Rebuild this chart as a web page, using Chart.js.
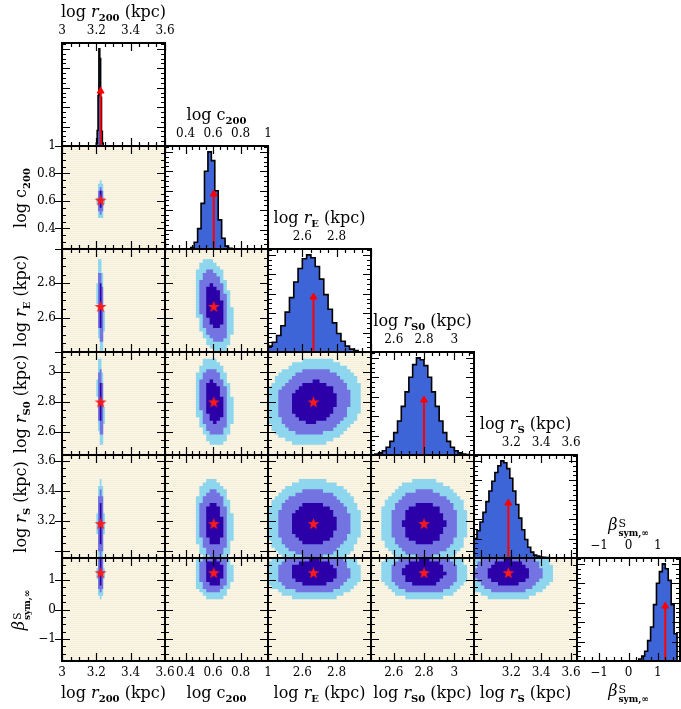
<!DOCTYPE html>
<html>
<head>
<meta charset="utf-8">
<script src="https://cdn.jsdelivr.net/npm/chart.js@4.4.1/dist/chart.umd.min.js"></script>
<style>
  html, body { margin: 0; padding: 0; background: #fff; }
  #fig { position: relative; width: 681px; height: 709px; overflow: hidden; }
  #fig canvas { position: absolute; left: 0; top: 0; }
  .ttl { position: absolute; font-family: "DejaVu Serif", serif; font-size: 16px; color: #000;
         white-space: nowrap; line-height: 1; transform: translate(-50%, -50%); }
  .ttl.rot { transform: translate(-50%, -50%) rotate(-90deg); }
  .ttl sub { font-size: 10px; font-weight: bold; vertical-align: -4px; line-height: 0; }
  .ttl .ss { display: inline-block; vertical-align: -6px; line-height: 1; margin-left: 1px; text-align: left; }
  .ttl .ss span { display: block; }
  .ttl .ss .up { font-size: 11px; }
  .ttl .ss .dn { font-size: 9px; font-weight: bold; }
</style>
</head>
<body>
<div id="fig"></div>
<script>
// parameters, in the order of the corner plot
const varNames = ['r200', 'c200', 'rE', 'rS0', 'rS', 'beta'];
const titleHtml = [
  'log <i>r</i><sub>200</sub> (kpc)',
  'log c<sub>200</sub>',
  'log <i>r</i><sub>E</sub> (kpc)',
  'log <i>r</i><sub>S0</sub> (kpc)',
  'log <i>r</i><sub>S</sub> (kpc)',
  '<i>β</i><span class="ss"><span class="up">S</span><span class="dn">sym,∞</span></span>'
];
const axisMin = [3.0, 0.25, 2.4, 2.45, 2.95, -1.75];
const axisMax = [3.6, 1.0, 3.0, 3.13, 3.64, 1.75];
const tickLabels = [[3, 3.2, 3.4, 3.6], [0.4, 0.6, 0.8, 1], [2.6, 2.8], [2.6, 2.8, 3], [3.2, 3.4, 3.6], [-1, 0, 1]];
const majorStep = [0.2, 0.2, 0.2, 0.2, 0.2, 1];
const minorStep = [0.05, 0.05, 0.05, 0.05, 0.05, 0.25];

// best fit (red star / arrow)
const bestFit = [3.225, 0.605, 2.665, 2.80, 3.18, 1.25];

// 2D contours: widths and correlations
const sigma = [0.0065, 0.044, 0.089, 0.092, 0.095, 0.30];
const rho = [
  [],
  [0.0],
  [-0.3, -0.3],
  [-0.3, -0.2, 0.1],
  [0.0, -0.1, 0.0, 0.0],
  [0.0, 0.0, 0.0, 0.0, 0.0]
];
const contourLevels = [3.15, 2.4, 1.5];           // outer -> inner
const contourColors = ['#8dd6ee', '#7373e2', '#2b00a9'];
const nBins = [60, 30, 30, 30, 30, 30];

// 1D histograms (peak normalised to 1)
const histStart = [3.2, 0.4375, 2.4, 2.475, 2.95, 0.35];
const histWidth = [0.005, 0.025, 0.025, 0.025, 0.02, 0.1];
const histR200 = [0.003, 0.03, 0.16, 0.52, 1.0, 0.9, 0.5, 0.15, 0.03, 0.003];
const histC200 = [0.004, 0.016, 0.07, 0.21, 0.47, 0.80, 1.0, 0.91, 0.6, 0.3, 0.11, 0.03, 0.006];
const histRE = [0.03, 0.06, 0.10, 0.17, 0.27, 0.41, 0.56, 0.72, 0.86, 0.96, 1.0, 0.97,
                0.88, 0.75, 0.59, 0.44, 0.30, 0.19, 0.11, 0.06, 0.03, 0.015];
const histRS0 = [0.005, 0.01, 0.022, 0.044, 0.08, 0.14, 0.23, 0.35, 0.5, 0.65, 0.8, 0.93, 1.0,
                 0.98, 0.92, 0.8, 0.65, 0.5, 0.35, 0.23, 0.14, 0.08, 0.044, 0.022, 0.01, 0.005];
const histRS = [0.14, 0.2, 0.28, 0.37, 0.47, 0.58, 0.69, 0.79, 0.88, 0.95, 1.0, 0.98, 0.92,
                0.82, 0.69, 0.55, 0.41, 0.29, 0.19, 0.11, 0.06, 0.03, 0.02, 0.01, 0.008, 0.005];
const histBeta = [0.01, 0.02, 0.05, 0.1, 0.21, 0.35, 0.58, 0.8, 0.92, 1.0, 0.95, 0.83, 0.58, 0.28];
const histCounts = [histR200, histC200, histRE, histRS0, histRS, histBeta];

const W = 681, H = 709, S = 103, X0 = 62, Y0 = 43;
const Y_AXIS_W = 60, X_AXIS_H = 30;
const HIST_TOP = 1.06, ARROW_Y = 0.565;
const HIST_FILL = '#3e65d8';
const CREAM = '#fbf6e7';
const fig = document.getElementById('fig');

function stepsIn(min, max, step) {
  const out = [];
  for (let k = Math.ceil(min / step - 1e-9); k * step <= max + 1e-9; k++) out.push(+(k * step).toFixed(6));
  return out;
}
function fmt(v) { return String(v).replace('-', '\u2212'); }

// binned (pixelated) confidence region for panel row i (y var) / col j (x var)
function binnedContour(i, j, k) {
  const x0 = axisMin[j], dx = (axisMax[j] - axisMin[j]) / nBins[j];
  const y0 = axisMin[i], dy = (axisMax[i] - axisMin[i]) / nBins[i];
  const sx = sigma[j], sy = sigma[i], r = rho[i][j];
  const rows = [];
  for (let b = 0; b < nBins[i]; b++) {
    const v = (y0 + (b + 0.5) * dy - bestFit[i]) / sy;
    if (Math.abs(v) >= k) continue;
    const half = Math.sqrt((1 - r * r) * (k * k - v * v));
    const xl = bestFit[j] + (r * v - half) * sx, xr = bestFit[j] + (r * v + half) * sx;
    const mLo = Math.ceil((xl - x0) / dx - 0.5), mHi = Math.floor((xr - x0) / dx - 0.5);
    if (mHi < mLo) continue;
    rows.push({ yb: y0 + b * dy, yt: y0 + (b + 1) * dy, l: x0 + mLo * dx, r: x0 + (mHi + 1) * dx });
  }
  const pts = [];
  rows.forEach(w => pts.push({ x: w.r, y: w.yb }, { x: w.r, y: w.yt }));
  rows.slice().reverse().forEach(w => pts.push({ x: w.l, y: w.yt }, { x: w.l, y: w.yb }));
  return pts;
}

function makeStar() {
  const c = document.createElement('canvas');
  c.width = c.height = 13;
  const g = c.getContext('2d');
  g.beginPath();
  for (let n = 0; n < 10; n++) {
    const a = -Math.PI / 2 + n * Math.PI / 5, r = n % 2 ? 2.5 : 6.2;
    g.lineTo(6.5 + r * Math.cos(a), 7 + r * Math.sin(a));
  }
  g.closePath();
  g.fillStyle = '#ff1a1a';
  g.fill();
  return c;
}
const starImg = makeStar();

// background, frame and inward ticks of each panel
const panelPlugin = {
  id: 'panel',
  beforeDraw(chart) {
    const o = chart.options.plugins.panel;
    if (!o || !o.cream) return;
    const { ctx, chartArea: a } = chart;
    ctx.save();
    ctx.fillStyle = CREAM;
    ctx.fillRect(a.left, a.top, a.width, a.height);
    ctx.fillStyle = 'rgba(225,212,170,0.22)';
    for (let y = a.top + 1; y < a.bottom; y += 2) ctx.fillRect(a.left, y, a.width, 1);
    ctx.restore();
  },
  afterDraw(chart) {
    const o = chart.options.plugins.panel;
    if (!o) return;
    const { ctx, chartArea: a } = chart;
    const sx = chart.scales.x, sy = chart.scales.y;
    const xMaj = stepsIn(axisMin[o.xVar], axisMax[o.xVar], majorStep[o.xVar]);
    const xMin = stepsIn(axisMin[o.xVar], axisMax[o.xVar], minorStep[o.xVar]);
    const yMaj = o.yVar < 0 ? stepsIn(0, HIST_TOP, 0.2) : stepsIn(axisMin[o.yVar], axisMax[o.yVar], majorStep[o.yVar]);
    const yMin = o.yVar < 0 ? stepsIn(0, HIST_TOP, 0.05) : stepsIn(axisMin[o.yVar], axisMax[o.yVar], minorStep[o.yVar]);
    ctx.save();
    ctx.strokeStyle = '#000';
    ctx.lineWidth = 1.2;
    ctx.beginPath();
    const vt = (v, len) => {
      const p = Math.round(sx.getPixelForValue(v)) + 0.5;
      ctx.moveTo(p, a.bottom); ctx.lineTo(p, a.bottom - len);
      ctx.moveTo(p, a.top); ctx.lineTo(p, a.top + len);
    };
    const ht = (v, len) => {
      const p = Math.round(sy.getPixelForValue(v)) + 0.5;
      ctx.moveTo(a.left, p); ctx.lineTo(a.left + len, p);
      ctx.moveTo(a.right, p); ctx.lineTo(a.right - len, p);
      if (o.leftOut && len > 5) { ctx.moveTo(a.left, p); ctx.lineTo(a.left - 7, p); }
    };
    xMin.forEach(v => vt(v, 4));
    xMaj.forEach(v => vt(v, 8));
    yMin.forEach(v => ht(v, 4));
    yMaj.forEach(v => ht(v, 8));
    ctx.stroke();
    ctx.lineWidth = 2;
    ctx.strokeRect(a.left, a.top, a.width, a.height);
    ctx.restore();
  }
};
Chart.register(panelPlugin);

function axisCfg(axis, position, min, max, labels) {
  return {
    type: 'linear', axis, position, min, max,
    display: !!labels,
    grid: { display: false, drawTicks: false },
    border: { display: false },
    ticks: {
      autoSkip: false, maxRotation: 0, minRotation: 0,
      padding: axis === 'y' ? 6 : 5,
      color: '#000',
      font: { family: 'DejaVu Serif', size: 12 },
      callback: v => fmt(v)
    },
    afterBuildTicks: s => { if (labels) s.ticks = labels.map(v => ({ value: v })); },
    afterFit: s => {
      const size = labels ? (axis === 'y' ? Y_AXIS_W : X_AXIS_H) : 0;
      if (axis === 'y') s.width = size; else s.height = size;
      s.paddingLeft = s.paddingRight = s.paddingTop = s.paddingBottom = 0;
    }
  };
}

function makePanel(i, j) {
  const diag = i === j;
  const L = X0 + S * j, T = Y0 + S * i;
  const showBottom = i === 5, showTop = diag, showLeft = !diag && j === 0;
  const cv = document.createElement('canvas');
  cv.width = W; cv.height = H;
  fig.appendChild(cv);

  // listed top-most first: Chart.js paints the first dataset last
  const datasets = [];
  if (diag) {
    const counts = histCounts[j];
    const pts = [{ x: histStart[j], y: 0 }];
    counts.forEach((c, k) => pts.push({ x: histStart[j] + k * histWidth[j], y: c }));
    pts.push({ x: histStart[j] + counts.length * histWidth[j], y: 0 });
    datasets.push({ data: [{ x: bestFit[j], y: ARROW_Y }], showLine: false, pointStyle: 'triangle',
                    pointRadius: 4, backgroundColor: '#ff0000', borderColor: '#ff0000', borderWidth: 1 });
    datasets.push({ data: [{ x: bestFit[j], y: 0 }, { x: bestFit[j], y: ARROW_Y }], stepped: 'after',
                    borderColor: '#ff0000', borderWidth: 2, pointRadius: 0, fill: false });
    datasets.push({ data: pts, stepped: 'after', fill: 'origin', backgroundColor: HIST_FILL,
                    borderColor: '#000', borderWidth: 1.6, pointRadius: 0 });
  } else {
    datasets.push({ data: [{ x: bestFit[j], y: bestFit[i] }], showLine: false,
                    pointStyle: starImg, pointRadius: 6 });
    for (let n = contourLevels.length - 1; n >= 0; n--) {
      datasets.push({
        data: binnedContour(i, j, contourLevels[n]), fill: 'shape', backgroundColor: contourColors[n],
        borderColor: 'rgba(0,0,0,0)', borderWidth: 0, borderDash: [2, 2], pointRadius: 0
      });
    }
  }

  new Chart(cv, {
    type: 'line',
    data: { datasets: datasets.map(d => Object.assign({ xAxisID: 'x', yAxisID: 'y' }, d)) },
    options: {
      responsive: false, animation: false, devicePixelRatio: 1, events: [],
      layout: {
        autoPadding: false,
        padding: {
          left: L - (showLeft ? Y_AXIS_W : 0),
          top: T - (showTop ? X_AXIS_H : 0),
          right: W - L - S,
          bottom: H - T - S - (showBottom ? X_AXIS_H : 0)
        }
      },
      scales: {
        x: axisCfg('x', 'bottom', axisMin[j], axisMax[j], showBottom ? tickLabels[j] : null),
        xt: axisCfg('x', 'top', axisMin[j], axisMax[j], showTop ? tickLabels[j] : null),
        y: axisCfg('y', 'left', diag ? 0 : axisMin[i], diag ? HIST_TOP : axisMax[i],
                   showLeft ? tickLabels[i] : null)
      },
      plugins: {
        legend: { display: false }, tooltip: { enabled: false },
        panel: { cream: !diag, xVar: j, yVar: diag ? -1 : i, leftOut: showLeft }
      }
    }
  });
}

for (let i = 0; i < 6; i++) for (let j = 0; j <= i; j++) makePanel(i, j);

// axis titles
function addTitle(html, x, y, rot) {
  const d = document.createElement('div');
  d.className = 'ttl' + (rot ? ' rot' : '');
  d.innerHTML = html;
  d.style.left = x + 'px';
  d.style.top = y + 'px';
  fig.appendChild(d);
}
for (let j = 0; j < 6; j++) {
  const cx = X0 + S * j + S / 2;
  addTitle(titleHtml[j], cx, Y0 + S * j - 31, false);  // above diagonal panel
  addTitle(titleHtml[j], cx, 693, false);               // below bottom row
  if (j > 0) addTitle(titleHtml[j], 21, Y0 + S * j + S / 2, true);
}
</script>
</body>
</html>
